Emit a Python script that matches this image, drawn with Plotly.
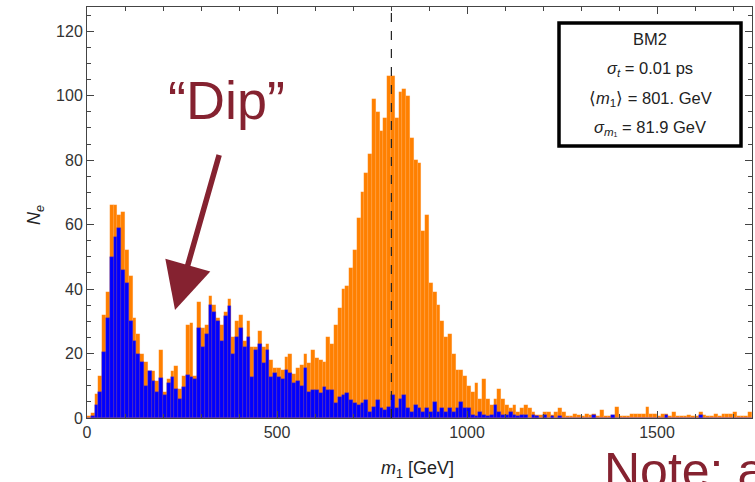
import plotly.graph_objects as go
import numpy as np

# ---- data (10 GeV bins, 0..1750 GeV) ----
bin_width = 10
bin_start = 0
orange_counts = [
    0.5, 1.5, 7.5, 13, 32, 39, 66, 66, 63, 64,            # 0-100
    52, 44, 31, 26, 20, 17.5, 14.5, 14.5, 11.5, 21,       # 100-200
    8, 12, 14.5, 16, 9, 13, 29, 29.5, 13, 36,             # 200-300
    28, 29, 38, 35, 31, 29, 33, 37, 25, 30,               # 300-400
    32, 24, 30, 22, 22, 27, 22, 23, 18, 15.5,             # 400-500
    15.5, 15, 19, 20, 13.5, 15.5, 16.5, 20, 17, 21,       # 500-600
    18.5, 18, 17.5, 25, 23, 29, 34, 40, 41, 46.5,         # 600-700
    52, 62, 70, 76, 82, 99, 95, 89, 93, 106,              # 700-800
    106, 93, 101, 102, 100, 87, 80, 79, 58, 63,           # 800-900
    42, 39, 35, 30, 25, 26, 20, 15, 15, 13,               # 900-1000
    10, 8, 11, 6, 12, 6, 4, 6, 9, 6,                      # 1000-1100
    4, 3, 4, 2, 3, 4, 3, 2, 1, 1,                         # 1100-1200
    2, 2, 1, 2, 3, 2, 0.5, 0.5, 1.2, 1,                   # 1200-1300
    0.5, 1.2, 1, 1.2, 0.5, 2.5, 0.5, 0.5, 0.5, 3.5,       # 1300-1400
    0.5, 0.5, 0.5, 1.2, 1.2, 1.2, 1.2, 3.5, 1.2, 1.2,     # 1400-1500
    0.5, 1.2, 1.2, 0.5, 2, 0.5, 0.5, 0.5, 1, 0.5,         # 1500-1600
    0.5, 2, 1, 0.5, 0.5, 1.2, 0.5, 1.2, 1.2, 1.2,         # 1600-1700
    2, 0.5, 0.5, 0.5, 2,                                  # 1700-1750
]
blue_counts = [
    0, 0.5, 4, 8, 20.5, 31, 50, 56, 59, 46,               # 0-100
    42, 30, 24, 20, 17.5, 10, 14.5, 11.5, 8, 12.5,        # 100-200
    7, 11, 12.8, 9, 6, 9.7, 13.4, 12.8, 12, 28,           # 200-300
    22, 26, 35, 33, 30, 24, 31.5, 34.6, 20, 25,           # 300-400
    28, 22, 25, 12.8, 21, 23, 17, 21, 12.8, 14,           # 400-500
    12.8, 12, 15, 14, 11, 11.5, 10, 15.5, 8, 8.7,         # 500-600
    8.7, 7.7, 9.7, 8.7, 8.7, 4.6, 6.6, 7, 7.7, 5.6,       # 600-700
    4.6, 4, 4.6, 5.6, 2, 3.5, 5.6, 3, 2.5, 3.5,           # 700-800
    7, 3, 6, 7, 3, 2, 4, 3, 2, 3,                         # 800-900
    2, 5, 2, 3, 2, 3, 2, 3, 5, 3,                         # 900-1000
    3, 1, 0.5, 2, 1, 0.5, 1, 4, 2, 1,                     # 1000-1100
    1, 2, 1, 0.5, 1, 1, 0, 1, 0.5, 0,                     # 1100-1200
    1, 0, 0.5, 0, 0.5, 0, 0, 0, 0, 0,                     # 1200-1300
    0, 0, 0, 1, 0, 0, 0, 0, 1, 0,                         # 1300-1400
    0, 0, 0, 0, 0, 0, 0, 0, 0, 0,                         # 1400-1500
    0, 0, 1, 0, 0, 0, 0, 0, 0, 0,                         # 1500-1600
    0, 1, 0, 0, 0, 0, 0, 0, 0, 0,                         # 1600-1700
    0, 0, 0, 0, 0,                                        # 1700-1750
]
mean_m1 = 801
box_lines = ["BM2",
             "<i>σ</i><sub><i>t</i></sub> = 0.01 ps",
             "⟨<i>m</i><sub>1</sub>⟩ = 801. GeV",
             "<i>σ</i><sub><i>m</i>₁</sub> = 81.9 GeV"]
x_ticks = [0, 500, 1000, 1500]
y_ticks = [0, 20, 40, 60, 80, 100, 120]

assert len(orange_counts) == len(blue_counts)
centers = bin_start + bin_width * (np.arange(len(orange_counts)) + 0.5)

# ---- geometry helpers (pixel -> paper) ----
W, H = 755, 482
L, R, T, B = 87, 3, 7, 64
pw, ph = W - L - R, H - T - B
def px(x): return (x - L) / pw
def py(y): return (H - B - y) / ph

DARKRED = "#852230"
FONT = "Arial, Liberation Sans"

fig = go.Figure()
fig.add_trace(go.Bar(x=centers, y=orange_counts, width=bin_width,
                     marker=dict(color="#FF8000",
                                 line=dict(color="rgba(255,190,140,0.35)", width=0.4)),
                     hoverinfo="skip"))
fig.add_trace(go.Bar(x=centers, y=blue_counts, width=bin_width,
                     marker=dict(color="#0000FF",
                                 line=dict(color="rgba(105,60,170,0.7)", width=0.5)),
                     hoverinfo="skip"))

fig.add_shape(type="line", x0=mean_m1, x1=mean_m1, y0=0, y1=1, xref="x", yref="paper",
              line=dict(color="#222", width=1.2, dash="dash"))

# stats box
fig.add_shape(type="rect", xref="paper", yref="paper",
              x0=px(559), x1=px(741), y0=py(146), y1=py(23),
              line=dict(color="black", width=3.5), fillcolor="white")
for t, yy in zip(box_lines, [39, 69, 99, 128]):
    fig.add_annotation(text=t, xref="paper", yref="paper", x=px(650), y=py(yy),
                       showarrow=False, xanchor="center", yanchor="middle",
                       font=dict(family=FONT, size=16.5, color="#222"))

# Dip label and arrow
fig.add_annotation(text="“Dip”", xref="paper", yref="paper", x=px(226), y=py(100),
                   showarrow=False, xanchor="center", yanchor="middle",
                   font=dict(family=FONT, size=54, color=DARKRED))
fig.add_annotation(text=" ", xref="paper", yref="paper", x=px(175), y=py(310),
                   ax=222 - 175, ay=145 - 310, showarrow=True,
                   arrowhead=2, arrowsize=1.7, arrowwidth=5.5, arrowcolor=DARKRED, standoff=0)

# Note text (cut off at the edge, as in the reference)
fig.add_annotation(text="Note: a", xref="paper", yref="paper", x=px(602), y=py(441),
                   showarrow=False, xanchor="left", yanchor="top",
                   font=dict(family=FONT, size=50, color=DARKRED))

# axis titles
fig.add_annotation(text="<i>m</i><sub>1</sub> [GeV]", xref="paper", yref="paper",
                   x=px(417), y=py(469), showarrow=False, xanchor="center", yanchor="middle",
                   font=dict(family=FONT, size=18, color="#222"))
fig.add_annotation(text="<i>N</i><sub><i>e</i></sub>", xref="paper", yref="paper",
                   x=px(35), y=py(215), showarrow=False, textangle=-90,
                   xanchor="center", yanchor="middle",
                   font=dict(family=FONT, size=18, color="#222"))

axis_common = dict(showgrid=False, zeroline=False, showline=True, linecolor="#444",
                   linewidth=1, mirror="ticks", ticks="inside", tickcolor="#444",
                   ticklen=7, tickwidth=1,
                   tickfont=dict(family=FONT, size=16, color="#333"))
fig.update_xaxes(range=[0, 1750], tickvals=x_ticks,
                 minor=dict(dtick=100, ticks="inside", ticklen=4, tickcolor="#444", tick0=0),
                 **axis_common)
fig.update_yaxes(range=[0, 127.5], tickvals=y_ticks,
                 minor=dict(dtick=5, ticks="inside", ticklen=4, tickcolor="#444", tick0=0),
                 **axis_common)

fig.update_layout(width=W, height=H, barmode="overlay", bargap=0, showlegend=False,
                  plot_bgcolor="white", paper_bgcolor="white",
                  margin=dict(l=L, r=R, t=T, b=B, autoexpand=False))
fig.write_html("out.html", config={"displayModeBar": False},
               post_script="document.body.style.margin='0';document.body.style.overflow='hidden';")
